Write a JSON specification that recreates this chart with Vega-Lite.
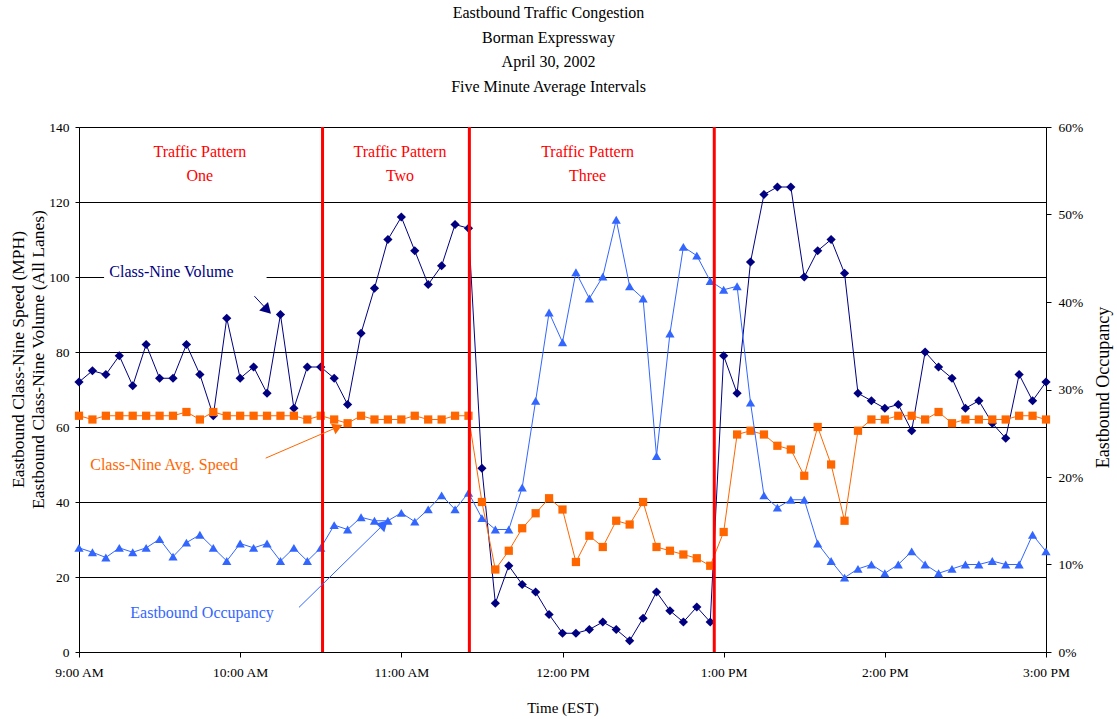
{
  "$schema": "https://vega.github.io/schema/vega-lite/v6.json",
  "width": 967,
  "height": 525,
  "autosize": {"type": "none"},
  "padding": {"left": 79, "top": 127, "right": 71, "bottom": 67},
  "background": "white",
  "config": {
    "view": {"stroke": "#808080", "strokeWidth": 1},
    "font": "Liberation Serif",
    "axis": {"labelFont": "Liberation Serif", "titleFont": "Liberation Serif", "labelColor": "#000", "titleColor": "#000", "titleFontWeight": "normal", "domainColor": "#000", "tickColor": "#000"}
  },
  "title": {
    "text": ["Eastbound Traffic Congestion", "Borman Expressway", "April 30, 2002", "Five Minute Average Intervals"],
    "font": "Liberation Serif", "fontSize": 16, "fontWeight": "normal", "color": "#000",
    "lineHeight": 24.7, "anchor": "middle", "frame": "group", "dx": -14, "offset": 25
  },
  "datasets": {
    "traffic": [
      {"time": "2002-04-30T09:00", "volume": 72, "speed": 63, "occupancy": 0.119},
      {"time": "2002-04-30T09:05", "volume": 75, "speed": 62, "occupancy": 0.114},
      {"time": "2002-04-30T09:10", "volume": 74, "speed": 63, "occupancy": 0.108},
      {"time": "2002-04-30T09:15", "volume": 79, "speed": 63, "occupancy": 0.119},
      {"time": "2002-04-30T09:20", "volume": 71, "speed": 63, "occupancy": 0.114},
      {"time": "2002-04-30T09:25", "volume": 82, "speed": 63, "occupancy": 0.119},
      {"time": "2002-04-30T09:30", "volume": 73, "speed": 63, "occupancy": 0.129},
      {"time": "2002-04-30T09:35", "volume": 73, "speed": 63, "occupancy": 0.109},
      {"time": "2002-04-30T09:40", "volume": 82, "speed": 64, "occupancy": 0.125},
      {"time": "2002-04-30T09:45", "volume": 74, "speed": 62, "occupancy": 0.134},
      {"time": "2002-04-30T09:50", "volume": 63, "speed": 64, "occupancy": 0.119},
      {"time": "2002-04-30T09:55", "volume": 89, "speed": 63, "occupancy": 0.104},
      {"time": "2002-04-30T10:00", "volume": 73, "speed": 63, "occupancy": 0.124},
      {"time": "2002-04-30T10:05", "volume": 76, "speed": 63, "occupancy": 0.119},
      {"time": "2002-04-30T10:10", "volume": 69, "speed": 63, "occupancy": 0.124},
      {"time": "2002-04-30T10:15", "volume": 90, "speed": 63, "occupancy": 0.104},
      {"time": "2002-04-30T10:20", "volume": 65, "speed": 63, "occupancy": 0.119},
      {"time": "2002-04-30T10:25", "volume": 76, "speed": 62, "occupancy": 0.104},
      {"time": "2002-04-30T10:30", "volume": 76, "speed": 63, "occupancy": 0.119},
      {"time": "2002-04-30T10:35", "volume": 73, "speed": 62, "occupancy": 0.145},
      {"time": "2002-04-30T10:40", "volume": 66, "speed": 61, "occupancy": 0.140},
      {"time": "2002-04-30T10:45", "volume": 85, "speed": 63, "occupancy": 0.154},
      {"time": "2002-04-30T10:50", "volume": 97, "speed": 62, "occupancy": 0.150},
      {"time": "2002-04-30T10:55", "volume": 110, "speed": 62, "occupancy": 0.150},
      {"time": "2002-04-30T11:00", "volume": 116, "speed": 62, "occupancy": 0.159},
      {"time": "2002-04-30T11:05", "volume": 107, "speed": 63, "occupancy": 0.149},
      {"time": "2002-04-30T11:10", "volume": 98, "speed": 62, "occupancy": 0.163},
      {"time": "2002-04-30T11:15", "volume": 103, "speed": 62, "occupancy": 0.179},
      {"time": "2002-04-30T11:20", "volume": 114, "speed": 63, "occupancy": 0.163},
      {"time": "2002-04-30T11:25", "volume": 113, "speed": 63, "occupancy": 0.182},
      {"time": "2002-04-30T11:30", "volume": 49, "speed": 40, "occupancy": 0.153},
      {"time": "2002-04-30T11:35", "volume": 13, "speed": 22, "occupancy": 0.140},
      {"time": "2002-04-30T11:40", "volume": 23, "speed": 27, "occupancy": 0.140},
      {"time": "2002-04-30T11:45", "volume": 18, "speed": 33, "occupancy": 0.188},
      {"time": "2002-04-30T11:50", "volume": 16, "speed": 37, "occupancy": 0.287},
      {"time": "2002-04-30T11:55", "volume": 10, "speed": 41, "occupancy": 0.388},
      {"time": "2002-04-30T12:00", "volume": 5, "speed": 38, "occupancy": 0.354},
      {"time": "2002-04-30T12:05", "volume": 5, "speed": 24, "occupancy": 0.434},
      {"time": "2002-04-30T12:10", "volume": 6, "speed": 31, "occupancy": 0.404},
      {"time": "2002-04-30T12:15", "volume": 8, "speed": 28, "occupancy": 0.429},
      {"time": "2002-04-30T12:20", "volume": 6, "speed": 35, "occupancy": 0.494},
      {"time": "2002-04-30T12:25", "volume": 3, "speed": 34, "occupancy": 0.418},
      {"time": "2002-04-30T12:30", "volume": 9, "speed": 40, "occupancy": 0.404},
      {"time": "2002-04-30T12:35", "volume": 16, "speed": 28, "occupancy": 0.224},
      {"time": "2002-04-30T12:40", "volume": 11, "speed": 27, "occupancy": 0.364},
      {"time": "2002-04-30T12:45", "volume": 8, "speed": 26, "occupancy": 0.463},
      {"time": "2002-04-30T12:50", "volume": 12, "speed": 25, "occupancy": 0.453},
      {"time": "2002-04-30T12:55", "volume": 8, "speed": 23, "occupancy": 0.424},
      {"time": "2002-04-30T13:00", "volume": 79, "speed": 32, "occupancy": 0.414},
      {"time": "2002-04-30T13:05", "volume": 69, "speed": 58, "occupancy": 0.418},
      {"time": "2002-04-30T13:10", "volume": 104, "speed": 59, "occupancy": 0.285},
      {"time": "2002-04-30T13:15", "volume": 122, "speed": 58, "occupancy": 0.179},
      {"time": "2002-04-30T13:20", "volume": 124, "speed": 55, "occupancy": 0.165},
      {"time": "2002-04-30T13:25", "volume": 124, "speed": 54, "occupancy": 0.174},
      {"time": "2002-04-30T13:30", "volume": 100, "speed": 47, "occupancy": 0.174},
      {"time": "2002-04-30T13:35", "volume": 107, "speed": 60, "occupancy": 0.124},
      {"time": "2002-04-30T13:40", "volume": 110, "speed": 50, "occupancy": 0.104},
      {"time": "2002-04-30T13:45", "volume": 101, "speed": 35, "occupancy": 0.085},
      {"time": "2002-04-30T13:50", "volume": 69, "speed": 59, "occupancy": 0.095},
      {"time": "2002-04-30T13:55", "volume": 67, "speed": 62, "occupancy": 0.100},
      {"time": "2002-04-30T14:00", "volume": 65, "speed": 62, "occupancy": 0.090},
      {"time": "2002-04-30T14:05", "volume": 66, "speed": 63, "occupancy": 0.100},
      {"time": "2002-04-30T14:10", "volume": 59, "speed": 63, "occupancy": 0.115},
      {"time": "2002-04-30T14:15", "volume": 80, "speed": 62, "occupancy": 0.100},
      {"time": "2002-04-30T14:20", "volume": 76, "speed": 64, "occupancy": 0.090},
      {"time": "2002-04-30T14:25", "volume": 73, "speed": 61, "occupancy": 0.095},
      {"time": "2002-04-30T14:30", "volume": 65, "speed": 62, "occupancy": 0.100},
      {"time": "2002-04-30T14:35", "volume": 67, "speed": 62, "occupancy": 0.100},
      {"time": "2002-04-30T14:40", "volume": 61, "speed": 62, "occupancy": 0.104},
      {"time": "2002-04-30T14:45", "volume": 57, "speed": 62, "occupancy": 0.100},
      {"time": "2002-04-30T14:50", "volume": 74, "speed": 63, "occupancy": 0.100},
      {"time": "2002-04-30T14:55", "volume": 67, "speed": 63, "occupancy": 0.134},
      {"time": "2002-04-30T15:00", "volume": 72, "speed": 62, "occupancy": 0.115}
    ],
    "dividers": [
      {"time": "2002-04-30T10:30:40"},
      {"time": "2002-04-30T11:25:20"},
      {"time": "2002-04-30T12:56:30"}
    ],
    "labelbox": [
      {"t1": "2002-04-30T09:09:20", "t2": "2002-04-30T10:09:50", "v1": 97.5, "v2": 105}
    ],
    "notes": [
      {"kind": "pattern", "t": "2002-04-30T09:45:00", "v": 133.3, "label": "Traffic Pattern\nOne"},
      {"kind": "pattern", "t": "2002-04-30T10:59:30", "v": 133.3, "label": "Traffic Pattern\nTwo"},
      {"kind": "pattern", "t": "2002-04-30T12:09:20", "v": 133.3, "label": "Traffic Pattern\nThree"},
      {"kind": "volume", "t": "2002-04-30T09:34:24", "v": 101.4, "label": "Class-Nine Volume"},
      {"kind": "speed", "t": "2002-04-30T09:31:40", "v": 49.9, "label": "Class-Nine Avg. Speed"},
      {"kind": "occ", "t": "2002-04-30T09:45:48", "v": 10.5, "label": "Eastbound Occupancy"}
    ],
    "arrows": [
      {"kind": "volume", "t1": "2002-04-30T10:05:18", "v1": 94.9, "t2": "2002-04-30T10:10:06", "v2": 91.2},
      {"kind": "speed", "t1": "2002-04-30T10:09:30", "v1": 51.7, "t2": "2002-04-30T10:36:20", "v2": 60},
      {"kind": "occ", "t1": "2002-04-30T10:21:54", "v1": 11.9, "t2": "2002-04-30T10:53:30", "v2": 34.1}
    ]
  },
  "layer": [
    {
      "layer": [
        {
          "data": {"name": "labelbox"},
          "mark": {"type": "rect", "fill": "white"},
          "encoding": {
            "x": {
              "field": "t1", "type": "temporal",
              "scale": {"domain": [{"year": 2002, "month": 4, "date": 30, "hours": 9}, {"year": 2002, "month": 4, "date": 30, "hours": 15}]},
              "axis": {
                "title": "Time (EST)", "format": "%-I:%M %p", "tickCount": 6,
                "grid": false, "tickSize": 5, "labelPadding": 8, "labelFontSize": 13.5, "labelFlush": false,
                "titleFontSize": 15, "titleY": 55, "titleBaseline": "middle"
              }
            },
            "x2": {"field": "t2"},
            "y": {
              "field": "v1", "type": "quantitative",
              "scale": {"domain": [0, 140], "nice": false},
              "axis": {
                "title": ["Eastbound Class-Nine Speed (MPH)", "Eastbound Class-Nine Volume (All Lanes)"],
                "values": [0, 20, 40, 60, 80, 100, 120, 140],
                "grid": true, "gridColor": "#000000",
                "tickSize": 4, "labelPadding": 6, "labelFontSize": 13.5,
                "titleFontSize": 17.5, "titleAngle": 270, "titleBaseline": "middle", "titleAlign": "center",
                "titleLineHeight": 20, "titleX": -61, "titleY": 232
              }
            },
            "y2": {"field": "v2"}
          }
        },
        {
          "mark": {"type": "rule", "color": "#808080", "strokeWidth": 1.5},
          "encoding": {
            "y": {"datum": 60, "type": "quantitative"}
          }
        },
        {
          "mark": {"type": "rule", "color": "#808080", "strokeWidth": 1.5},
          "encoding": {
            "y": {"datum": 140, "type": "quantitative"}
          }
        },
        {
          "data": {"name": "traffic"},
          "mark": {"type": "line", "color": "#000080", "strokeWidth": 1},
          "encoding": {
            "x": {"field": "time", "type": "temporal"},
            "y": {"field": "volume", "type": "quantitative"}
          }
        },
        {
          "data": {"name": "traffic"},
          "mark": {"type": "point", "shape": "diamond", "filled": true, "size": 85, "color": "#000080", "opacity": 1},
          "encoding": {
            "x": {"field": "time", "type": "temporal"},
            "y": {"field": "volume", "type": "quantitative"}
          }
        },
        {
          "data": {"name": "traffic"},
          "mark": {"type": "line", "color": "#FF6600", "strokeWidth": 1},
          "encoding": {
            "x": {"field": "time", "type": "temporal"},
            "y": {"field": "speed", "type": "quantitative"}
          }
        },
        {
          "data": {"name": "traffic"},
          "mark": {"type": "point", "shape": "square", "filled": true, "size": 68, "color": "#FF6600", "opacity": 1},
          "encoding": {
            "x": {"field": "time", "type": "temporal"},
            "y": {"field": "speed", "type": "quantitative"}
          }
        }
      ]
    },
    {
      "data": {"name": "traffic"},
      "layer": [
        {
          "mark": {"type": "line", "color": "#3366FF", "strokeWidth": 1},
          "encoding": {
            "x": {"field": "time", "type": "temporal"},
            "y": {
              "field": "occupancy", "type": "quantitative",
              "scale": {"domain": [0, 0.6], "nice": false},
              "axis": {
                "orient": "right", "title": "Eastbound Occupancy", "format": ".0%",
                "values": [0, 0.1, 0.2, 0.3, 0.4, 0.5, 0.6], "grid": false,
                "tickSize": 5, "labelPadding": 7, "labelFontSize": 13.5,
                "titleFontSize": 18, "titleAngle": 270, "titleBaseline": "middle", "titleAlign": "center",
                "titleX": 57, "titleY": 260
              }
            }
          }
        },
        {
          "mark": {"type": "point", "shape": "triangle-up", "filled": true, "size": 85, "color": "#3366FF", "opacity": 1},
          "encoding": {
            "x": {"field": "time", "type": "temporal"},
            "y": {"field": "occupancy", "type": "quantitative"}
          }
        }
      ]
    },
    {
      "layer": [
        {
          "data": {"name": "dividers"},
          "mark": {"type": "rule", "color": "#FF0000", "strokeWidth": 3},
          "encoding": {
            "x": {"field": "time", "type": "temporal"}
          }
        },
        {
          "data": {"name": "arrows"},
          "mark": {"type": "rule", "strokeWidth": 1},
          "encoding": {
            "x": {"field": "t1", "type": "temporal"},
            "x2": {"field": "t2"},
            "y": {"field": "v1", "type": "quantitative", "scale": {"domain": [0, 140], "nice": false}, "axis": null},
            "y2": {"field": "v2"},
            "color": {"field": "kind", "type": "nominal", "legend": null, "scale": {"domain": ["pattern", "volume", "speed", "occ"], "range": ["#FF0000", "#000080", "#FF6600", "#3366FF"]}}
          }
        },
        {
          "data": {"name": "arrows"},
          "transform": [{"filter": "datum.kind === 'volume'"}],
          "mark": {"type": "point", "shape": "triangle-up", "filled": true, "size": 150, "angle": 136, "opacity": 1, "color": "#000080"},
          "encoding": {
            "x": {"field": "t2", "type": "temporal"},
            "y": {"field": "v2", "type": "quantitative", "axis": null}
          }
        },
        {
          "data": {"name": "arrows"},
          "transform": [{"filter": "datum.kind === 'speed'"}],
          "mark": {"type": "point", "shape": "triangle-up", "filled": true, "size": 130, "angle": 67, "opacity": 1, "color": "#FF6600"},
          "encoding": {
            "x": {"field": "t2", "type": "temporal"},
            "y": {"field": "v2", "type": "quantitative", "axis": null}
          }
        },
        {
          "data": {"name": "arrows"},
          "transform": [{"filter": "datum.kind === 'occ'"}],
          "mark": {"type": "point", "shape": "triangle-up", "filled": true, "size": 150, "angle": 46, "opacity": 1, "color": "#3366FF"},
          "encoding": {
            "x": {"field": "t2", "type": "temporal"},
            "y": {"field": "v2", "type": "quantitative", "axis": null}
          }
        },
        {
          "data": {"name": "notes"},
          "mark": {"type": "text", "font": "Liberation Serif", "fontSize": 16, "align": "center", "baseline": "middle", "lineBreak": "\n", "lineHeight": 24},
          "encoding": {
            "x": {"field": "t", "type": "temporal"},
            "y": {"field": "v", "type": "quantitative", "axis": null},
            "text": {"field": "label"},
            "color": {"field": "kind", "type": "nominal", "legend": null, "scale": {"domain": ["pattern", "volume", "speed", "occ"], "range": ["#FF0000", "#000080", "#FF6600", "#3366FF"]}}
          }
        }
      ]
    }
  ],
  "resolve": {"scale": {"y": "independent"}}
}
